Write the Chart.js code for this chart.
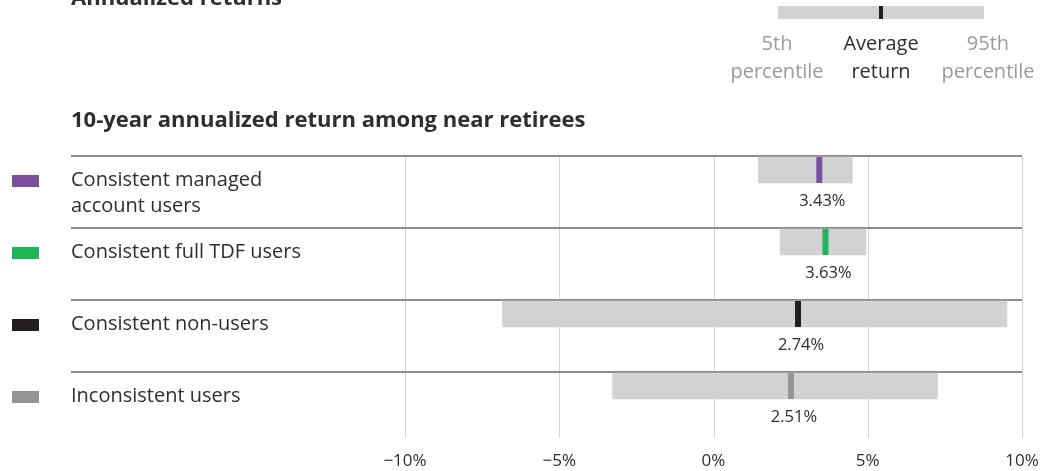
<!DOCTYPE html>
<html>
<head>
<meta charset="utf-8">
<script src="https://cdn.jsdelivr.net/npm/chart.js@4/dist/chart.umd.min.js"></script>
<style>
  html, body { margin: 0; padding: 0; background: #fff; }
  #wrap { width: 1054px; height: 471px; position: relative; }
</style>
</head>
<body>
<div id="wrap"><canvas id="c" width="1054" height="471"></canvas></div>
<script>
// Groups of near retirees and their 10-year annualized returns (%)
const groups = [
  ["Consistent managed", "account users"],
  ["Consistent full TDF users"],
  ["Consistent non-users"],
  ["Inconsistent users"]
];
const averageReturn = [3.43, 3.63, 2.74, 2.51];
const percentile5 = [1.45, 2.16, -6.84, -3.27];
const percentile95 = [4.50, 4.94, 9.51, 7.26];
const groupColors = ["#7a4f9c", "#1fb457", "#231f20", "#949597"];
const xTickValues = [-10, -5, 0, 5, 10];

const FONT = "'Open Sans', sans-serif";
const TEXT = "#2e2e2e";
const MUTED = "#9a9a9a";
const RANGE = "#d1d2d4";
const RULE = "#8c8c8c";
const GRID = "#d4d4d4";

const fmtTick = v => (v < 0 ? "\u2212" + Math.abs(v) : String(v)) + "%";

const decor = {
  id: "decor",
  beforeDatasetsDraw(chart) {
    const { ctx, chartArea, scales } = chart;
    const x = scales.x, y = scales.y;
    const top = y.getPixelForValue(0) - 14;
    ctx.save();
    // vertical gridlines
    ctx.strokeStyle = GRID;
    ctx.lineWidth = 1;
    xTickValues.forEach(v => {
      const px = Math.round(x.getPixelForValue(v)) + 0.5;
      ctx.beginPath();
      ctx.moveTo(px, top);
      ctx.lineTo(px, chartArea.bottom + 16);
      ctx.stroke();
    });
    // row separators
    ctx.strokeStyle = RULE;
    ctx.lineWidth = 2;
    groups.forEach((g, i) => {
      const py = Math.round(y.getPixelForValue(i)) - 14;
      ctx.beginPath();
      ctx.moveTo(71, py);
      ctx.lineTo(chartArea.right, py);
      ctx.stroke();
    });
    ctx.restore();
  },
  afterDatasetsDraw(chart) {
    const { ctx, scales } = chart;
    const x = scales.x, y = scales.y;
    ctx.save();
    ctx.textBaseline = "alphabetic";

    // value labels under the average markers
    ctx.fillStyle = TEXT;
    ctx.font = "16.5px " + FONT;
    ctx.textAlign = "center";
    averageReturn.forEach((v, i) => {
      const cy = y.getPixelForValue(i);
      ctx.fillText(v.toFixed(2) + "%", x.getPixelForValue(v) + 3, cy + 36);
    });

    // row labels with colour keys
    ctx.textAlign = "left";
    ctx.font = "20px " + FONT;
    groups.forEach((lines, i) => {
      const cy = y.getPixelForValue(i);
      ctx.fillStyle = groupColors[i];
      ctx.fillRect(12, cy + 5, 27, 12);
      ctx.fillStyle = TEXT;
      lines.forEach((t, k) => ctx.fillText(t, 71, cy + 16 + k * 26));
    });

    // titles
    ctx.font = "bold 22px " + FONT;
    ctx.fillText("Annualized returns", 71, 5);
    ctx.fillText("10-year annualized return among near retirees", 71, 127);

    // key for range bar and average marker
    ctx.fillStyle = RANGE;
    ctx.fillRect(778, 6, 206, 13);
    ctx.fillStyle = "#231f20";
    ctx.fillRect(879, 6, 4, 13);
    ctx.font = "20px " + FONT;
    ctx.textAlign = "center";
    ctx.fillStyle = MUTED;
    ctx.fillText("5th", 777, 50);
    ctx.fillText("percentile", 777, 78);
    ctx.fillText("95th", 988, 50);
    ctx.fillText("percentile", 988, 78);
    ctx.fillStyle = TEXT;
    ctx.fillText("Average", 881, 50);
    ctx.fillText("return", 881, 78);
    ctx.restore();
  }
};

new Chart(document.getElementById("c"), {
  data: {
    labels: groups.map(g => g.join(" ")),
    datasets: [
      {
        type: "bar",
        data: percentile5.map((lo, i) => [lo, percentile95[i]]),
        backgroundColor: RANGE,
        barThickness: 26,
        borderWidth: 0,
        order: 2
      },
      {
        type: "line",
        indexAxis: "y",
        data: averageReturn,
        showLine: false,
        pointStyle: "line",
        rotation: 90,
        pointRadius: 13,
        pointHoverRadius: 13,
        pointBorderWidth: 6,
        pointBorderColor: groupColors,
        pointBackgroundColor: groupColors,
        order: 1
      }
    ]
  },
  options: {
    indexAxis: "y",
    responsive: false,
    animation: false,
    devicePixelRatio: 1,
    events: [],
    layout: { padding: { left: 405, right: 32, top: 134, bottom: 0 } },
    scales: {
      x: {
        type: "linear",
        min: -10,
        max: 10,
        afterBuildTicks: s => { s.ticks = xTickValues.map(v => ({ value: v })); },
        afterFit: s => { s.height = 49; s.paddingLeft = 0; s.paddingRight = 0; },
        ticks: { callback: fmtTick, color: TEXT, font: { family: FONT, size: 17 }, padding: 29, maxRotation: 0 },
        grid: { display: false, drawTicks: false },
        border: { display: false }
      },
      y: {
        type: "category",
        display: false,
        offset: true
      }
    },
    plugins: { legend: { display: false }, tooltip: { enabled: false } }
  },
  plugins: [decor]
});
</script>
</body>
</html>
